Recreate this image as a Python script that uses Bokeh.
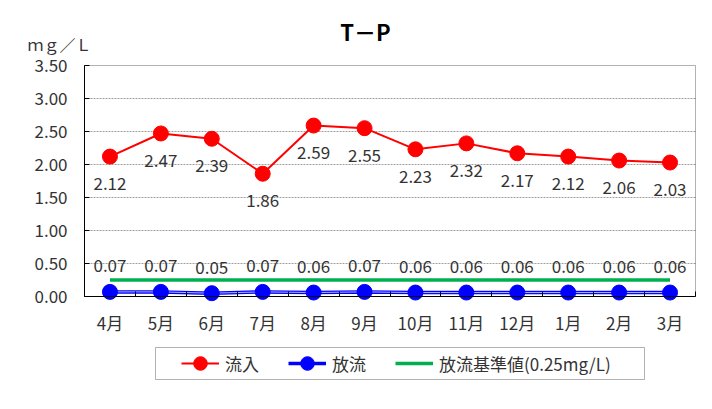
from bokeh.plotting import figure
from bokeh.models import (Range1d, FixedTicker, Legend, LegendItem, Label,
                          ColumnDataSource, LinearAxis, BoxAnnotation)
from bokeh.core.properties import value
from bokeh.embed import file_html
from bokeh.resources import INLINE

months = ["4月", "5月", "6月", "7月", "8月", "9月", "10月", "11月", "12月", "1月", "2月", "3月"]
inflow = [2.12, 2.47, 2.39, 1.86, 2.59, 2.55, 2.23, 2.32, 2.17, 2.12, 2.06, 2.03]
outflow = [0.07, 0.07, 0.05, 0.07, 0.06, 0.07, 0.06, 0.06, 0.06, 0.06, 0.06, 0.06]
standard = 0.25
y_ticks = [0, 0.5, 1.0, 1.5, 2.0, 2.5, 3.0, 3.5]
title_text = "T－P"
unit_text = "ｍｇ／Ｌ"

FONT = "Noto Sans CJK JP"
TXT = "#333333"
W, H = 712, 409
# plot-area box in canvas pixels
FL, FR, FT, FB = 84, 695, 65, 296
N = len(months)
YMAX = 3.5

pxx = (FR - FL) / N
pxy = (FB - FT) / YMAX
x_range = Range1d(-FL / pxx, N + (W - FR) / pxx)
y_range = Range1d(-(H - FB) / pxy, YMAX + FT / pxy)

xs = [i + 0.5 for i in range(N)]
src = ColumnDataSource(dict(
    x=xs, inflow=inflow, outflow=outflow,
    std=[standard] * N,
    inflow_lbl=["%.2f" % v for v in inflow],
    outflow_lbl=["%.2f" % v for v in outflow],
))
grid_vals = y_ticks[1:-1]
grid_src = ColumnDataSource(dict(y=grid_vals, x0=[0] * len(grid_vals),
                                 x1=[N] * len(grid_vals)))

p = figure(width=W, height=H, output_backend="svg", toolbar_location=None,
           x_range=x_range, y_range=y_range, min_border=0,
           x_axis_type=None, y_axis_type=None)
p.outline_line_color = None
p.background_fill_color = "white"
p.border_fill_color = "white"
p.xgrid.visible = False
p.ygrid.visible = False

# horizontal grid lines inside the plot area
p.segment(x0="x0", y0="y", x1="x1", y1="y", source=grid_src,
          line_color="#a0a0a0", line_dash="2 1", line_width=1)

# plot area border
p.add_layout(BoxAnnotation(left=0, right=N, bottom=0, top=YMAX,
                           fill_alpha=0, line_color="black", line_width=1))

# axes fixed at the plot-area edges
xaxis = LinearAxis(fixed_location=0, bounds=(0, N),
                   ticker=FixedTicker(ticks=xs, minor_ticks=list(range(N + 1))),
                   major_label_overrides={x: m for x, m in zip(xs, months)},
                   major_tick_in=0, major_tick_out=0,
                   minor_tick_in=5, minor_tick_out=0,
                   minor_tick_line_color="black",
                   major_label_standoff=13)
yaxis = LinearAxis(fixed_location=0, bounds=(0, YMAX),
                   ticker=FixedTicker(ticks=y_ticks),
                   major_label_overrides={t: "%.2f" % t for t in y_ticks},
                   major_tick_in=5, major_tick_out=0,
                   minor_tick_line_color=None,
                   major_label_standoff=17)
for ax in (xaxis, yaxis):
    ax.axis_line_color = "black"
    ax.major_tick_line_color = "black"
    ax.major_label_text_font = FONT
    ax.major_label_text_font_size = "17px"
    ax.major_label_text_color = TXT
p.add_layout(xaxis, "below")
p.add_layout(yaxis, "left")

# series
g_std = p.line("x", "std", source=src, line_color="#00b050", line_width=3.5)
l_in = p.line("x", "inflow", source=src, line_color="#ff0000", line_width=2)
c_in = p.scatter("x", "inflow", source=src, size=15, fill_color="#ff0000",
                 line_color="#ff0000")
l_out = p.line("x", "outflow", source=src, line_color="#0000ff", line_width=3.5)
p.line("x", "outflow", source=src, line_color="white", line_width=1, line_alpha=0.7)
c_out = p.scatter("x", "outflow", source=src, size=15, fill_color="#0000ff",
                  line_color="#0000ff")

# data labels
p.text("x", "inflow", text="inflow_lbl", source=src, text_align="center",
       text_baseline="middle", y_offset=27, text_font=value(FONT),
       text_font_size="17px", text_color=TXT)
p.text("x", "outflow", text="outflow_lbl", source=src, text_align="center",
       text_baseline="middle", y_offset=-26, text_font=value(FONT),
       text_font_size="17px", text_color=TXT)

# title and unit (screen units: from canvas bottom-left)
p.add_layout(Label(x=365, y=H - 30, x_units="screen", y_units="screen",
                   text=title_text, text_align="center", text_baseline="middle",
                   text_font=FONT, text_font_size="22px", text_font_style="bold",
                   text_color="black"))
p.add_layout(Label(x=59, y=H - 43, x_units="screen", y_units="screen",
                   text=unit_text, text_align="center", text_baseline="middle",
                   text_font=FONT, text_font_size="16px", text_color=TXT))

# legend (frame drawn separately so its padding can be asymmetric)
p.add_layout(BoxAnnotation(left=155, right=644, top=H - 347, bottom=H - 379,
                           left_units="screen", right_units="screen",
                           top_units="screen", bottom_units="screen",
                           fill_color="white", fill_alpha=1,
                           line_color="black", line_width=1))
legend = Legend(items=[
    LegendItem(label="流入", renderers=[l_in, c_in]),
    LegendItem(label="放流", renderers=[l_out, c_out]),
    LegendItem(label="放流基準値(0.25mg/L)", renderers=[g_std]),
], location=(181, H - 380), orientation="horizontal",
    label_text_font=FONT, label_text_font_size="17px", label_text_color=TXT,
    glyph_width=38, glyph_height=34, label_height=20, label_standoff=6,
    spacing=29, padding=0, margin=0,
    border_line_color=None, background_fill_alpha=0)
p.add_layout(legend, "center")

open("out.html", "w").write(file_html(p, INLINE))
